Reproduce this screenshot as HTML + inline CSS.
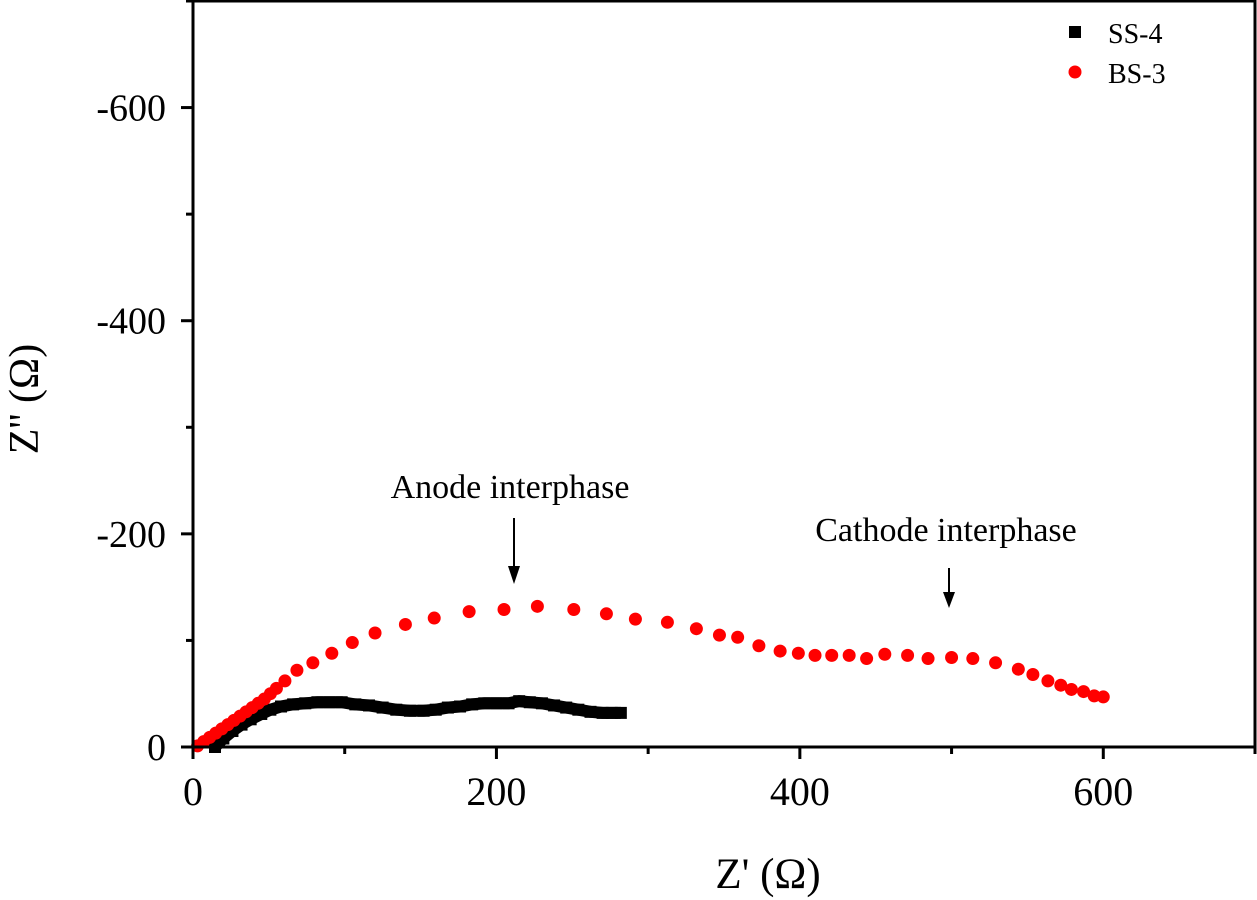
<!DOCTYPE html>
<html><head><meta charset="utf-8"><style>
html,body{margin:0;padding:0;background:#fff;}
svg{display:block;font-family:"Liberation Serif",serif;}
</style></head><body>
<svg id="chart" width="1257" height="900" viewBox="0 0 1257 900" xmlns="http://www.w3.org/2000/svg">
<g id="marks"></g>
<g id="axes"></g>
</svg>
<script>
const xTicks = [0, 200, 400, 600];
const xTickLabels = ["0", "200", "400", "600"];
const yTicks = [0, 200, 400, 600];
const yTickLabels = ["0", "-200", "-400", "-600"];
const ssX = [14.5, 20, 26, 32, 38, 45, 51, 58, 66, 74, 82, 90, 98, 107, 116, 125, 134, 143, 152, 160, 168, 176, 184, 192, 200, 208, 215, 222, 230, 238, 246, 254, 262, 270, 276, 282];
const ssY = [0, 8, 15, 21, 26, 31, 35, 38, 40, 41, 42, 42, 42, 40, 39, 37, 35, 34, 34, 35, 37, 38, 40, 41, 41, 41, 43, 42, 41, 39, 37, 35, 33, 32, 32, 32];
const bsX = [3, 7, 11, 15, 19, 23, 27, 31, 35, 39, 43, 47, 51, 55, 60.6, 68.5, 79, 91.5, 105, 120, 140, 159, 182, 205, 227, 251, 272.5, 291.6, 312.7, 331.8, 347, 359, 373, 387, 399, 410, 421, 432.5, 444, 456, 471, 484.5, 500, 514, 529, 544, 553.6, 563.5, 572, 579, 587, 594, 600];
const bsY = [1, 5, 9, 13, 17, 21, 25, 29, 33, 37, 41, 45, 50, 55, 62, 72, 79, 88, 98, 107, 115, 121, 127, 129, 132, 129, 125, 120, 117, 111, 105, 103, 95, 90, 88, 86, 86, 86, 83, 87, 86, 83, 84, 83, 79, 73, 68, 62, 58, 54, 52, 48, 47];

const X0 = 193, X1 = 1255, Y0 = 747, YT = 1;
const xs = v => X0 + v * (X1 - X0) / 700;
const ys = v => Y0 - v * (Y0 - YT) / 700;
const NS = "http://www.w3.org/2000/svg";
function mk(tag, attrs, parent, text) {
  const e = document.createElementNS(NS, tag);
  for (const k in attrs) e.setAttribute(k, attrs[k]);
  if (text !== undefined) e.textContent = text;
  parent.appendChild(e);
  return e;
}
const marks = document.getElementById('marks');
const axes = document.getElementById('axes');

const ssLine = mk('polyline', {points: ssX.map((x, i) => xs(x) + ',' + ys(ssY[i])).join(' '), fill: 'none', stroke: '#000', 'stroke-width': 12}, marks);


ssX.forEach((x, i) => {
  const r = mk('rect', {x: xs(x) - 6, y: ys(ssY[i]) - 6, width: 12, height: 12, fill: '#000'}, marks);
  
  
});
bsX.forEach((x, i) => {
  const c = mk('circle', {cx: xs(x), cy: ys(bsY[i]), r: 6.5, fill: '#f00'}, marks);
  
  
});

const frame = mk('rect', {x: X0, y: YT, width: X1 - X0, height: Y0 - YT, fill: 'none', stroke: '#000', 'stroke-width': 3}, axes);



for (let v = 0; v <= 700; v += 100) {
  const major = v % 200 === 0;
  const t = mk('line', {x1: xs(v), x2: xs(v), y1: Y0, y2: Y0 + (major ? 12 : 7), stroke: '#000', 'stroke-width': 3}, axes);
  
  
}
xTicks.forEach((v, i) => {
  const t = mk('text', {x: xs(v), y: 805, 'text-anchor': 'middle', 'font-size': 40}, axes, xTickLabels[i]);
  
  
});
for (let v = 0; v <= 700; v += 100) {
  const major = v % 200 === 0;
  const t = mk('line', {x1: X0 - (major ? 12 : 7), x2: X0, y1: ys(v), y2: ys(v), stroke: '#000', 'stroke-width': 3}, axes);
  
  
}
yTicks.forEach((v, i) => {
  const t = mk('text', {x: 166, y: ys(v) + 13, 'text-anchor': 'end', 'font-size': 38}, axes, yTickLabels[i]);
  
  
});
</script>
<svg style="position:absolute;left:0;top:0" width="1257" height="900">
<text x="768" y="888" text-anchor="middle" font-size="43" font-family="Liberation Serif, serif">Z' (Ω)</text>
<text transform="translate(38,399) rotate(-90)" text-anchor="middle" font-size="42" font-family="Liberation Serif, serif">Z'' (Ω)</text>
<rect x="1069" y="26" width="12" height="12" fill="#000"/>
<text x="1108" y="43" font-size="28" font-family="Liberation Serif, serif">SS-4</text>
<circle cx="1075" cy="72" r="6.5" fill="#f00"/>
<text x="1108" y="83" font-size="28" font-family="Liberation Serif, serif">BS-3</text>
<text x="510" y="498" text-anchor="middle" font-size="34" font-family="Liberation Serif, serif">Anode interphase</text>
<line x1="514" y1="518" x2="514" y2="570" stroke="#000" stroke-width="2"/>
<polygon points="508,566 520,566 514,584" fill="#000"/>
<text x="946" y="541" text-anchor="middle" font-size="34" font-family="Liberation Serif, serif">Cathode interphase</text>
<line x1="949" y1="568" x2="949" y2="596" stroke="#000" stroke-width="2"/>
<polygon points="943,592 955,592 949,608" fill="#000"/>
</svg>
</body></html>
